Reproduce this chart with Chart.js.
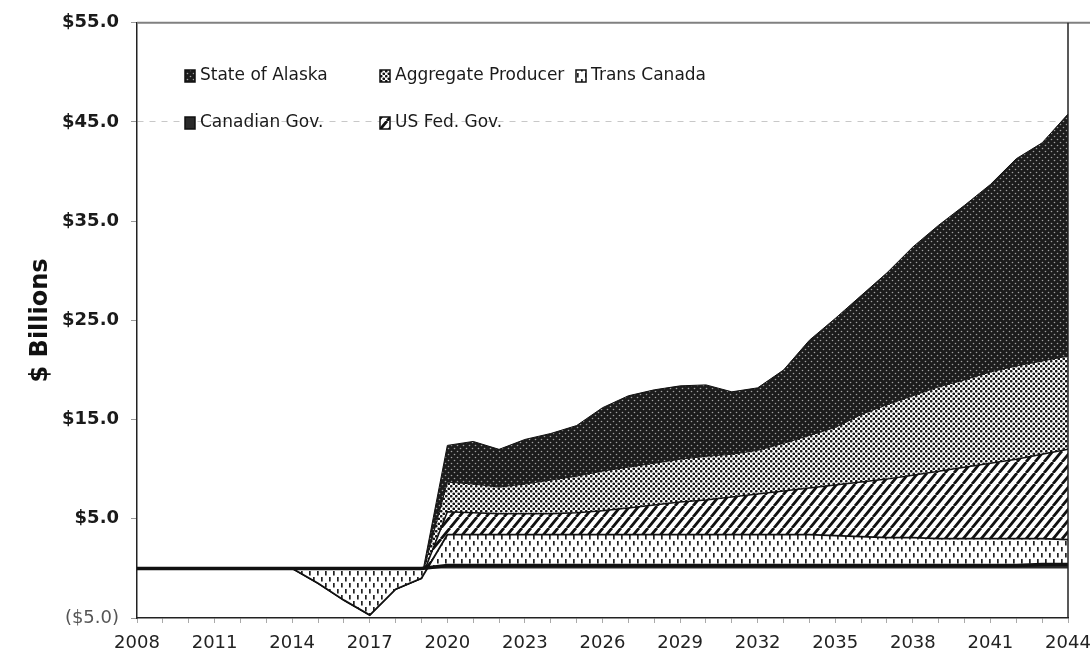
<!DOCTYPE html>
<html>
<head>
<meta charset="utf-8">
<title>Gas pipeline revenue by party</title>
<script src="https://cdn.jsdelivr.net/npm/chart.js@4.4.1/dist/chart.umd.min.js"></script>
<style>
  html, body { margin: 0; padding: 0; background: #fff; }
  #wrap { width: 1092px; height: 661px; }
</style>
</head>
<body>
<div id="wrap"><canvas id="chart" width="1092" height="661"></canvas></div>
<script>
// --- Data ($ billions per year, each series is its own layer of the stack) ---
const years = [
  '2008', '2009', '2010', '2011', '2012', '2013', '2014', '2015', '2016', '2017',
  '2018', '2019', '2020', '2021', '2022', '2023', '2024', '2025', '2026', '2027',
  '2028', '2029', '2030', '2031', '2032', '2033', '2034', '2035', '2036', '2037',
  '2038', '2039', '2040', '2041', '2042', '2043', '2044'
];
const xTickYears = ['2008', '2011', '2014', '2017', '2020', '2023', '2026', '2029', '2032', '2035', '2038', '2041', '2044'];

const canadianGov = [
  0, 0, 0, 0, 0, 0, 0, 0, 0, 0, 0, 0,
  0.3, 0.3, 0.3, 0.3, 0.3, 0.3, 0.3, 0.3, 0.3, 0.3, 0.3, 0.3, 0.3,
  0.3, 0.3, 0.3, 0.3, 0.3, 0.3, 0.3, 0.3, 0.3, 0.3, 0.4, 0.4
];
const transCanada = [
  0, 0, 0, 0, 0, 0, 0, -1.5, -3.2, -4.7, -2.1, -1.0,
  3.1, 3.1, 3.1, 3.1, 3.1, 3.1, 3.1, 3.1, 3.1, 3.1, 3.1, 3.1, 3.1,
  3.1, 3.1, 3.0, 2.9, 2.8, 2.8, 2.7, 2.7, 2.7, 2.7, 2.6, 2.5
];
const usFedGov = [
  0, 0, 0, 0, 0, 0, 0, 0, 0, 0, 0, 0,
  2.3, 2.2, 2.1, 2.1, 2.1, 2.2, 2.4, 2.7, 3.0, 3.3, 3.5, 3.8, 4.1,
  4.4, 4.7, 5.1, 5.5, 5.9, 6.3, 6.8, 7.2, 7.6, 8.0, 8.5, 9.1
];
const aggregateProducer = [
  0, 0, 0, 0, 0, 0, 0, 0, 0, 0, 0, 0,
  3.0, 2.9, 2.7, 3.0, 3.4, 3.7, 4.0, 4.1, 4.2, 4.3, 4.4, 4.3, 4.4,
  4.8, 5.3, 5.8, 6.8, 7.5, 8.0, 8.5, 8.8, 9.2, 9.4, 9.4, 9.4
];
const stateOfAlaska = [
  0, 0, 0, 0, 0, 0, 0, 0, 0, 0, 0, 0,
  3.7, 4.3, 3.8, 4.5, 4.7, 5.1, 6.4, 7.2, 7.4, 7.4, 7.2, 6.3, 6.3,
  7.4, 9.6, 11.0, 12.0, 13.3, 15.0, 16.3, 17.6, 18.9, 20.9, 22.0, 24.4
];

const FONT = '"DejaVu Sans", "Liberation Sans", Arial, sans-serif';

// --- Fill patterns ---
function makePattern(w, h, paint) {
  const c = document.createElement('canvas');
  c.width = w;
  c.height = h;
  const g = c.getContext('2d');
  paint(g, w, h);
  return g.createPattern(c, 'repeat');
}

function dot(g, x, y, r) {
  g.beginPath();
  g.arc(x, y, r, 0, Math.PI * 2);
  g.fill();
}

// near-black ground with a fine lattice of light specks
const alaskaFill = makePattern(6, 6, (g) => {
  g.fillStyle = '#1c1c1c';
  g.fillRect(0, 0, 6, 6);
  g.fillStyle = '#a0a0a0';
  dot(g, 1.5, 1.5, 0.8);
  dot(g, 4.5, 4.5, 0.8);
});

// dense black dots on white
const producerFill = makePattern(5, 5, (g) => {
  g.fillStyle = '#fff';
  g.fillRect(0, 0, 5, 5);
  g.fillStyle = '#151515';
  dot(g, 1.25, 1.25, 1.35);
  dot(g, 3.75, 3.75, 1.35);
});

// forward diagonal hatching, a little steeper than 45 degrees
const fedFill = makePattern(9, 11, (g, w, h) => {
  g.fillStyle = '#fff';
  g.fillRect(0, 0, w, h);
  g.strokeStyle = '#111';
  g.lineWidth = 2.8;
  g.beginPath();
  [-w, 0, w].forEach(dx => {
    g.moveTo(dx, h);
    g.lineTo(dx + w, 0);
  });
  g.stroke();
});

// sparse short vertical dashes on white
const transFill = makePattern(8, 12, (g) => {
  g.fillStyle = '#fff';
  g.fillRect(0, 0, 8, 12);
  g.fillStyle = '#222';
  g.fillRect(1, 1, 1.7, 4.5);
  g.fillRect(5, 7, 1.7, 4.5);
});

const canadianFill = '#2a2a2a';

function yTickLabel(v) {
  return v < 0 ? '($' + Math.abs(v).toFixed(1) + ')' : '$' + v.toFixed(1);
}

// --- Legend drawn inside the plot, two rows ---
const legendSlots = [
  { ds: 4, x: 185, y: 76 },
  { ds: 3, x: 380, y: 76 },
  { ds: 1, x: 576, y: 76 },
  { ds: 0, x: 185, y: 123 },
  { ds: 2, x: 380, y: 123 }
];

const insideLegend = {
  id: 'insideLegend',
  afterDraw(chart) {
    const ctx = chart.ctx;
    ctx.save();
    ctx.font = '17px ' + FONT;
    ctx.textBaseline = 'middle';
    ctx.textAlign = 'left';
    legendSlots.forEach(s => {
      const ds = chart.data.datasets[s.ds];
      ctx.fillStyle = ds.backgroundColor;
      ctx.fillRect(s.x, s.y - 6, 10, 12);
      ctx.strokeStyle = '#111';
      ctx.lineWidth = 1.5;
      ctx.strokeRect(s.x, s.y - 6, 10, 12);
      ctx.fillStyle = '#1a1a1a';
      ctx.fillText(ds.label, s.x + 15, s.y);
    });
    ctx.restore();
  }
};

// top rule and right edge of the plot
const frame = {
  id: 'frame',
  afterDraw(chart) {
    const { ctx, chartArea: a } = chart;
    ctx.save();
    ctx.strokeStyle = '#808080';
    ctx.lineWidth = 2;
    ctx.beginPath();
    ctx.moveTo(a.left, a.top);
    ctx.lineTo(chart.width - 2, a.top);
    ctx.stroke();
    ctx.strokeStyle = '#222';
    ctx.lineWidth = 1.5;
    ctx.beginPath();
    ctx.moveTo(a.right, a.top);
    ctx.lineTo(a.right, a.bottom);
    ctx.stroke();
    ctx.restore();
  }
};

function layer(label, data, bg, fill, width) {
  return {
    label: label,
    data: data,
    backgroundColor: bg,
    borderColor: '#111',
    borderWidth: width,
    fill: fill,
    pointRadius: 0,
    pointHoverRadius: 0,
    tension: 0
  };
}

new Chart(document.getElementById('chart'), {
  type: 'line',
  data: {
    labels: years,
    datasets: [
      layer('Canadian Gov.', canadianGov, canadianFill, 'origin', 3.5),
      layer('Trans Canada', transCanada, transFill, '-1', 1.8),
      layer('US Fed. Gov.', usFedGov, fedFill, '-1', 1.5),
      layer('Aggregate Producer', aggregateProducer, producerFill, '-1', 1),
      layer('State of Alaska', stateOfAlaska, alaskaFill, '-1', 1)
    ]
  },
  options: {
    responsive: false,
    animation: false,
    devicePixelRatio: 1,
    layout: { padding: { top: 14, right: 24, left: 0, bottom: 0 } },
    plugins: {
      legend: { display: false },
      tooltip: { enabled: false }
    },
    scales: {
      x: {
        grid: { drawOnChartArea: false, tickLength: 5, tickColor: '#aaa' },
        border: { display: true, color: '#222', width: 1.5 },
        ticks: {
          autoSkip: false,
          maxRotation: 0,
          padding: 10,
          color: '#222',
          font: { family: FONT, size: 18 },
          callback: (v, i) => (xTickYears.includes(years[i]) ? years[i] : '')
        },
        afterFit: s => {
          s.height = 43;
          s.paddingLeft = 0;
          s.paddingRight = 0;
        }
      },
      y: {
        stacked: true,
        min: -5,
        max: 55,
        ticks: {
          stepSize: 10,
          padding: 12,
          color: c => (c.tick && c.tick.value < 0 ? '#555' : '#1a1a1a'),
          font: c => ({ family: FONT, size: 18, weight: c.tick && c.tick.value < 0 ? 'normal' : 'bold' }),
          callback: yTickLabel
        },
        grid: {
          color: c => (c.tick && c.tick.value === 45 ? '#c8c8c8' : 'rgba(0,0,0,0)'),
          tickColor: '#999',
          tickLength: 6,
          lineWidth: 1
        },
        border: { display: true, color: '#222', width: 1.5, dash: [6, 6] },
        title: {
          display: true,
          text: '$ Billions',
          color: '#111',
          font: { family: FONT, size: 24, weight: 'bold' },
          padding: { top: 26, bottom: 0 }
        },
        afterFit: s => { s.width = 137; }
      }
    }
  },
  plugins: [frame, insideLegend]
});
</script>
</body>
</html>
